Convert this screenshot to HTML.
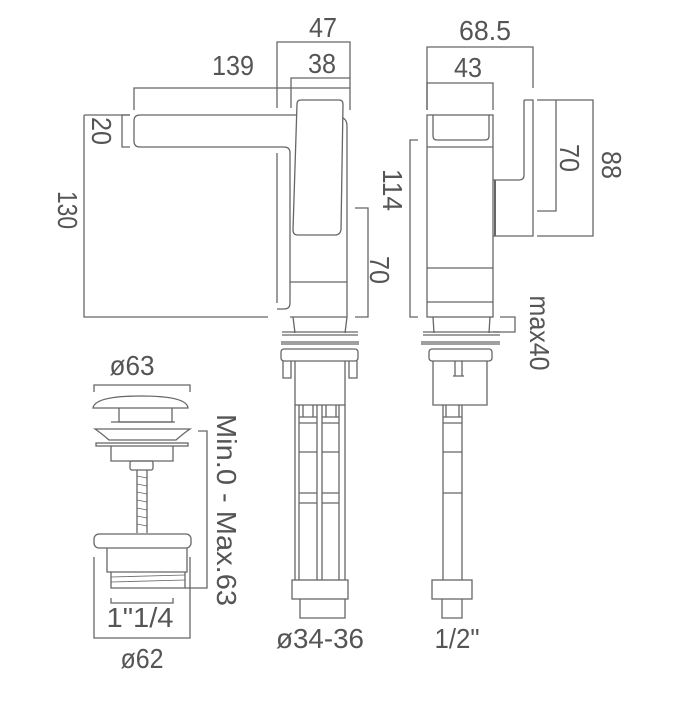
<!DOCTYPE html>
<html><head><meta charset="utf-8"><style>
html,body{margin:0;padding:0;background:#fff;}
svg{display:block;}
text{font-family:"Liberation Sans",sans-serif;font-size:28px;fill:#555;}
</style></head><body>
<svg width="673" height="717" viewBox="0 0 673 717" xmlns="http://www.w3.org/2000/svg">
<g fill="none" stroke="#666" stroke-width="1.3">
<!-- dims left view -->
<path d="M277 108V42H350V110"/>
<path d="M291 108V78H350"/>
<path d="M134 110V88H350"/>
<path d="M84 115H130M84 115V317H268"/>
<path d="M130 115H122V147H130"/>
<path d="M355 208H368V317H355"/>
<!-- spout -->
<path d="M297 115H140Q134 115 134 121V141Q134 147 140 147H284Q290 147 290 153V303Q290 309 284 309H277"/>
<path d="M277 153V303"/>
<!-- handle -->
<path d="M301 100H339Q343 100 343 104L341 230Q340 235 335 235H298Q293 235 293 230L297 104Q297 100 301 100Z"/>
<path d="M343 118Q347 120 347 126V317"/>
<path d="M290 282H347"/>
<path d="M290 317H347"/>
<!-- middle base -->
<path d="M293 317L295 333M347 317L345 333"/>
<path d="M282 332H358M282 335H358M281 342H359M281 344H359"/>
<rect x="281" y="349" width="77" height="12" rx="3"/>
<path d="M283 361V378H291V361M349 361V378H357V361"/>
<path d="M295 361V405H345V361"/>
<path d="M295 405V580M345 405V580"/>
<path d="M299 405V580M317 405V580M322 405V580M339 405V580"/>
<path d="M303 405V417M313 405V417M326 405V417M336 405V417"/>
<path d="M299 417H317M299 423H317M322 417H339M322 423H339"/>
<path d="M299 452H317M322 452H339M299 493H317M322 493H339M299 503H317M322 503H339"/>
<rect x="292" y="580" width="56" height="19"/>
<path d="M300 599V618H345V599"/>
<!-- right view -->
<path d="M427 110V47H533V88"/>
<path d="M427 110V83H493V110"/>
<rect x="427" y="115" width="66" height="202"/>
<path d="M433 115V136Q433 140 437 140H485Q489 140 489 136V115"/>
<path d="M427 147H493M427 268H493M427 302H493"/>
<path d="M524 100V175Q524 180 519 180H493M524 100H533V236H493"/>
<path d="M495 180V236" stroke-width="2"/>
<path d="M537 100H556V211H537M556 100H593V236H537"/>
<path d="M418 140H410V317H418"/>
<path d="M500 317H515V332H493"/>
<path d="M433 317L434 333M490 317L489 333"/>
<path d="M423 332H500M423 335H500M421 342H500M421 344H500"/>
<rect x="429" y="349" width="63" height="12" rx="3"/>
<path d="M433 361V405H487V361"/>
<path d="M455 361V376H462V361M453 376H464"/>
<path d="M443 405V580M462 405V580"/>
<path d="M446 405V417M459 405V417M443 417H462M443 423H462M443 452H462M443 493H462"/>
<rect x="432" y="580" width="40" height="19"/>
<path d="M442 599V618H462V599"/>
<!-- waste -->
<path d="M94 392V385H190V392"/>
<path d="M93 408Q95 396 141 396Q187 396 188 408Z"/>
<path d="M119 408V422H172V408"/>
<path d="M111 422H175"/>
<path d="M95 429H190Q184 433 176 440H109Q101 433 95 429Z"/>
<rect x="96" y="443" width="92" height="3"/>
<path d="M111 446V461H173V446"/>
<rect x="130" y="461" width="23" height="9" rx="2"/>
<path d="M137 470V533M147 470V533"/>
<path d="M137 476L147 478M137 484L147 486M137 492L147 494M137 500L147 502M137 508L147 510M137 516L147 518M137 524L147 526" stroke-width="0.8"/>
<rect x="94" y="534" width="97" height="14" rx="5"/>
<path d="M107 548V572H187V548"/>
<path d="M111 572V588H185V572"/>
<path d="M111 577L185 575M111 582L185 580" stroke-width="0.8"/>
<path d="M111 598V603H173V598"/>
<path d="M94 557V638H190V557"/>
<path d="M198 431H207V588H185"/>
</g>
<text x="323" y="37" text-anchor="middle" textLength="28" lengthAdjust="spacingAndGlyphs">47</text>
<text x="322" y="73" text-anchor="middle" textLength="28" lengthAdjust="spacingAndGlyphs">38</text>
<text x="233" y="75" text-anchor="middle" textLength="42" lengthAdjust="spacingAndGlyphs">139</text>
<text transform="translate(102,131) rotate(90)" text-anchor="middle" dy="10" textLength="28" lengthAdjust="spacingAndGlyphs">20</text>
<text transform="translate(68,210) rotate(90)" text-anchor="middle" dy="10" textLength="38" lengthAdjust="spacingAndGlyphs">130</text>
<text transform="translate(380,270) rotate(90)" text-anchor="middle" dy="10" textLength="28" lengthAdjust="spacingAndGlyphs">70</text>
<text x="485" y="40" text-anchor="middle" textLength="52" lengthAdjust="spacingAndGlyphs">68.5</text>
<text x="468" y="77" text-anchor="middle" textLength="28" lengthAdjust="spacingAndGlyphs">43</text>
<text transform="translate(393,190) rotate(90)" text-anchor="middle" dy="10" textLength="42" lengthAdjust="spacingAndGlyphs">114</text>
<text transform="translate(570,158) rotate(90)" text-anchor="middle" dy="10" textLength="28" lengthAdjust="spacingAndGlyphs">70</text>
<text transform="translate(612,165) rotate(90)" text-anchor="middle" dy="10" textLength="28" lengthAdjust="spacingAndGlyphs">88</text>
<text transform="translate(540,333) rotate(90)" text-anchor="middle" dy="10" textLength="75" lengthAdjust="spacingAndGlyphs">max40</text>
<text x="132" y="375" text-anchor="middle" textLength="45" lengthAdjust="spacingAndGlyphs">ø63</text>
<text transform="translate(227,510) rotate(90)" text-anchor="middle" dy="10" textLength="192" lengthAdjust="spacingAndGlyphs">Min.0 - Max.63</text>
<text x="140" y="627" text-anchor="middle" textLength="67" lengthAdjust="spacingAndGlyphs">1"1/4</text>
<text x="142" y="668" text-anchor="middle" textLength="43" lengthAdjust="spacingAndGlyphs">ø62</text>
<text x="320" y="648" text-anchor="middle" textLength="88" lengthAdjust="spacingAndGlyphs">ø34-36</text>
<text x="457" y="648" text-anchor="middle" textLength="45" lengthAdjust="spacingAndGlyphs">1/2"</text>
</svg>
</body></html>
